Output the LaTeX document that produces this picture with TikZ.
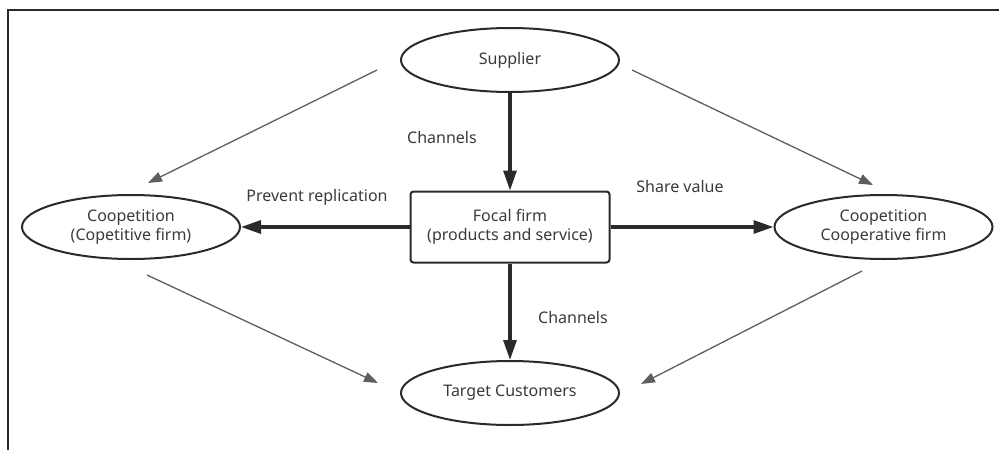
\documentclass[tikz,border=0pt]{standalone}
\usepackage{fontspec}
\setmainfont{Noto Sans}
\usetikzlibrary{arrows.meta,shapes.geometric}
\definecolor{ink}{HTML}{2A2A2A}
\definecolor{txt}{HTML}{3A3A3A}
\definecolor{thin}{HTML}{5E5E5E}
\begin{document}
\begin{tikzpicture}[x=1pt,y=-1pt,
  every node/.style={font=\fontsize{16}{19}\selectfont, text=txt},
  oval/.style={draw=ink, line width=2pt, ellipse, minimum width=218pt, minimum height=64pt, inner sep=0pt, align=center},
  firm/.style={draw=ink, line width=2pt, rounded corners=3pt, minimum width=199pt, minimum height=71pt, inner sep=0pt, align=center},
  main/.style={draw=ink, line width=3.2pt, -{Triangle[length=20pt,width=13pt]}},
  side/.style={draw=thin, line width=1.3pt, -{Triangle[length=14pt,width=10pt]}},
  lbl/.style={inner sep=0pt}]
\useasboundingbox (0,0) rectangle (999,450);
% partial frame
\draw[ink, line width=2.2pt] (8,450) -- (8,10) -- (999,10);

% nodes
\node[oval] (sup) at (510,60) {Supplier};
\node[firm] (focal) at (510,227) {Focal firm\\(products and service)};
\node[oval] (comp) at (131,227) {Coopetition\\(Copetitive firm)};
\node[oval] (coop) at (883.5,227) {Coopetition\\Cooperative firm};
\node[oval] (cust) at (510,393) {Target Customers};

% main flows
\draw[main] (sup) -- (focal);
\draw[main] (focal) -- (cust);
\draw[main] (focal) -- (comp);
\draw[main] (focal) -- (coop);

% labels
\node[lbl] at (442,137) {Channels};
\node[lbl] at (573,317) {Channels};
\node[lbl] at (317,197) {Prevent replication};
\node[lbl] at (680,186) {Share value};

% side influences
\coordinate (s1a) at (377,70);  \coordinate (s1b) at (148,183);
\coordinate (s2a) at (632,70);  \coordinate (s2b) at (873,185);
\coordinate (s3a) at (147,275); \coordinate (s3b) at (378,383);
\coordinate (s4a) at (862,271); \coordinate (s4b) at (641,384);
\draw[side] (s1a) -- (s1b);
\draw[side] (s2a) -- (s2b);
\draw[side] (s3a) -- (s3b);
\draw[side] (s4a) -- (s4b);
\end{tikzpicture}
\end{document}
